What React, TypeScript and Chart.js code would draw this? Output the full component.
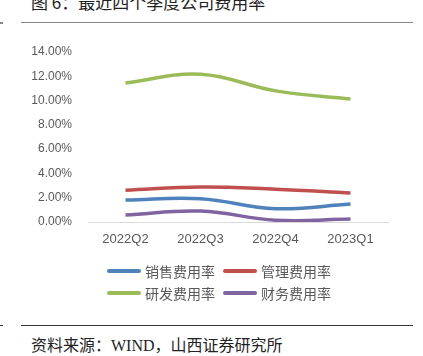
import React, { useEffect, useRef } from "react";
import { Chart, registerables } from "chart.js";

Chart.register(...registerables);

const categories = ["2022Q2", "2022Q3", "2022Q4", "2023Q1"];
const salesRate = [1.81, 1.92, 1.1, 1.48];
const mgmtRate = [2.61, 2.88, 2.7, 2.39];
const rdRate = [11.45, 12.17, 10.8, 10.13];
const finRate = [0.58, 0.9, 0.15, 0.25];
const seriesNames = ["销售费用率", "管理费用率", "研发费用率", "财务费用率"];
const seriesColors = ["#4F81BD", "#C0504D", "#9BBB59", "#8064A2"];
const yTicks = { min: 0, max: 14, step: 2 };

const titleText = "图 6：最近四个季度公司费用率";
const sourceText = ["资料来源：", "WIND", "，山西证券研究所"];

const CJK = '"Noto Sans CJK SC", "Noto Sans", sans-serif';

export default function App() {
  const ref = useRef<HTMLCanvasElement | null>(null);

  useEffect(() => {
    if (!ref.current) return;
    const all = [salesRate, mgmtRate, rdRate, finRate];
    const chart = new Chart(ref.current, {
      type: "line",
      data: {
        labels: categories,
        datasets: all.map((d, i) => ({
          label: seriesNames[i],
          data: d,
          borderColor: seriesColors[i],
          backgroundColor: seriesColors[i],
          borderWidth: 3.5,
          pointRadius: 0,
          tension: 0.4,
          fill: false,
        })),
      },
      options: {
        animation: false,
        responsive: false,
        maintainAspectRatio: false,
        layout: { padding: { top: 20, right: 35, left: 0, bottom: 0 } },
        plugins: { legend: { display: false }, tooltip: { enabled: false } },
        scales: {
          x: {
            offset: true,
            grid: { display: false },
            border: { display: true, color: "#D9D9D9", width: 1 },
            ticks: {
              color: "#595959",
              font: { family: '"Liberation Sans", Arial, sans-serif', size: 13 },
              padding: 2,
            },
            afterFit: (s: any) => {
              s.height = 40;
            },
          },
          y: {
            min: yTicks.min,
            max: yTicks.max,
            grid: { display: false },
            border: { display: false },
            ticks: {
              stepSize: yTicks.step,
              color: "#595959",
              padding: 8,
              font: { family: '"Liberation Sans", Arial, sans-serif', size: 12 },
              callback: (v: any) => Number(v).toFixed(2) + "%",
            },
            afterFit: (s: any) => {
              s.width = 88;
            },
          },
        },
      },
    });
    return () => chart.destroy();
  }, []);

  const legendRows = [
    [0, 1],
    [2, 3],
  ];

  return (
    <div style={{ position: "absolute", left: 0, top: 0, width: 423, height: 356, overflow: "hidden", background: "#fff" }}>
      <div
        style={{
          position: "absolute",
          left: 31,
          top: -8,
          lineHeight: "20px",
          fontSize: 17,
          fontFamily: CJK,
          color: "#222",
          whiteSpace: "nowrap",
        }}
      >
        {titleText}
      </div>
      <div style={{ position: "absolute", left: 0, top: 22, width: 3, height: 1.5, background: "#888" }} />
      <div style={{ position: "absolute", left: 21, top: 21.5, width: 392, height: 1.5, background: "#888" }} />
      <canvas
        ref={ref}
        width={423}
        height={230}
        style={{ position: "absolute", left: 0, top: 32, width: 423, height: 230 }}
      />
      {legendRows.map((row, r) => (
        <div key={r}>
          {row.map((idx, c) => (
            <div
              key={idx}
              style={{
                position: "absolute",
                left: c === 0 ? 107 : 223,
                top: r === 0 ? 261 : 283,
                height: 20,
                display: "flex",
                alignItems: "center",
                whiteSpace: "nowrap",
              }}
            >
              <div style={{ width: 34, height: 4, borderRadius: 2, background: seriesColors[idx] }} />
              <span style={{ marginLeft: 4, fontSize: 14, fontFamily: CJK, color: "#595959", lineHeight: "20px" }}>
                {seriesNames[idx]}
              </span>
            </div>
          ))}
        </div>
      ))}
      <div style={{ position: "absolute", left: 0, top: 325, width: 3, height: 1, background: "#333" }} />
      <div style={{ position: "absolute", left: 21, top: 325, width: 392, height: 1, background: "#333" }} />
      <div
        style={{
          position: "absolute",
          left: 31,
          top: 334,
          lineHeight: "20px",
          fontSize: 16,
          fontFamily: CJK,
          color: "#222",
          whiteSpace: "nowrap",
        }}
      >
        {sourceText[0]}
        <span style={{ fontFamily: '"Liberation Serif", serif' }}>{sourceText[1]}</span>
        {sourceText[2]}
      </div>
    </div>
  );
}
